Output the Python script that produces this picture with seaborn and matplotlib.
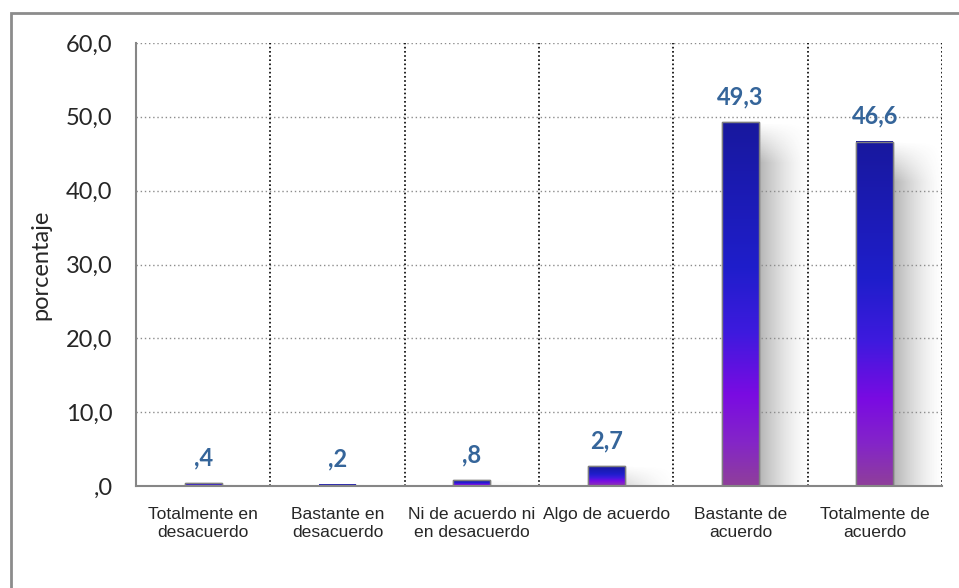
import numpy as np
import pandas as pd
import matplotlib
matplotlib.use('Agg')
import matplotlib.pyplot as plt
import matplotlib.patches as mpatches
from matplotlib.colors import LinearSegmentedColormap
import seaborn as sns

categories = ['Totalmente en\ndesacuerdo', 'Bastante en\ndesacuerdo',
              'Ni de acuerdo ni\nen desacuerdo', 'Algo de acuerdo',
              'Bastante de\nacuerdo', 'Totalmente de\nacuerdo']
values = [0.4, 0.2, 0.8, 2.7, 49.3, 46.6]
yticks = [0, 10, 20, 30, 40, 50, 60]
ytick_labels = [',0', '10,0', '20,0', '30,0', '40,0', '50,0', '60,0']

df = pd.DataFrame({'cat': categories, 'pct': values})

sns.set_style('white')
plt.rcParams['font.family'] = ['Lato', 'DejaVu Sans']

fig = plt.figure(figsize=(9.59, 5.88), dpi=100)
ax = fig.add_axes([136/959, 1 - 486/588, (942 - 136)/959, (486 - 43)/588])

sns.barplot(data=df, x='cat', y='pct', color='#1e1ecc', width=0.275,
            edgecolor='#7f7f7f', linewidth=1.0, ax=ax, zorder=3)

# vertical gradient for each bar
grad = LinearSegmentedColormap.from_list('g', [
    (0.0, '#8f3f9a'), (0.12, '#8425c8'), (0.25, '#7a0be2'),
    (0.42, '#3e1ade'), (0.6, '#1f1ecb'), (1.0, '#18189e')])
col = np.linspace(0, 1, 256).reshape(-1, 1)

# shadow image (gray fading to the right and toward the top)
nx, ny = 60, 200
sx = np.linspace(0, 1, nx)
sy = np.linspace(0, 1, ny)
for p in ax.patches:
    x0, w, h = p.get_x(), p.get_width(), p.get_height()
    ax.imshow(col, cmap=grad, origin='lower', aspect='auto',
              extent=(x0, x0 + w, 0, h), clip_path=p, zorder=3.5)
    # shadow
    top_px = h * 7.38
    fade = np.clip((1 - sy) * top_px / 40.0, 0, 1)
    alpha = np.outer(fade, (1 - sx) ** 1.5) * 0.42
    rgba = np.zeros((ny, nx, 4))
    rgba[..., :3] = 0.3
    rgba[..., 3] = alpha
    ax.imshow(rgba, origin='lower', aspect='auto',
              extent=(x0 + w, x0 + w + 0.38, 0, h), zorder=1)
    # outline on top of gradient
    ax.add_patch(mpatches.Rectangle((x0, 0), w, h, fill=False,
                                    edgecolor='#7f7f7f', lw=1.0, zorder=4))

for i, v in enumerate(values):
    txt = f'{v:.1f}'.replace('.', ',')
    if txt.startswith('0'):
        txt = txt[1:]
    ax.annotate(txt, (i, v), xytext=(0, 13), textcoords='offset points',
                ha='center', va='baseline', fontsize=17, fontweight='bold',
                color='#35659a', zorder=5)

ax.set_xlim(-0.5, 5.5)
ax.set_ylim(0, 60)

# grid
for y in yticks[1:]:
    ax.axhline(y, color='#8c8c8c', lw=1.0, ls=(0, (1, 2)), zorder=2)
for xb in np.arange(0.5, 6, 1):
    ax.axvline(xb, color='black', lw=1.2, ls=(0, (1, 1.5)), zorder=2)

for s in ['top', 'right']:
    ax.spines[s].set_visible(False)
for s in ['left', 'bottom']:
    ax.spines[s].set_color('#868686')
    ax.spines[s].set_linewidth(1.5)
    ax.spines[s].set_zorder(6)

ax.set_yticks(yticks)
ax.set_yticklabels(ytick_labels, fontsize=17)
ax.tick_params(axis='y', length=6, width=1.5, color='#868686', pad=11)

ax.set_xticks(range(len(categories)))
ax.set_xticklabels(categories, family=['Liberation Sans', 'DejaVu Sans'],
                   fontsize=12.6, linespacing=1.25)
ax.set_xticks(np.arange(-0.5, 6, 1), minor=True)
ax.tick_params(axis='x', which='major', length=0, pad=15)
ax.tick_params(axis='x', which='minor', length=5, width=1.5, color='#868686')

ax.set_xlabel('')
ax.set_ylabel('porcentaje', fontsize=17)
ax.yaxis.set_label_coords(-0.105, 0.5)

fig.patches.append(mpatches.Rectangle((11/959, -0.1), 1.2, 1.1 - 13/588,
                                      transform=fig.transFigure, fill=False,
                                      edgecolor='#8c8c8c', lw=2))

fig.savefig('out.png', dpi=100)
